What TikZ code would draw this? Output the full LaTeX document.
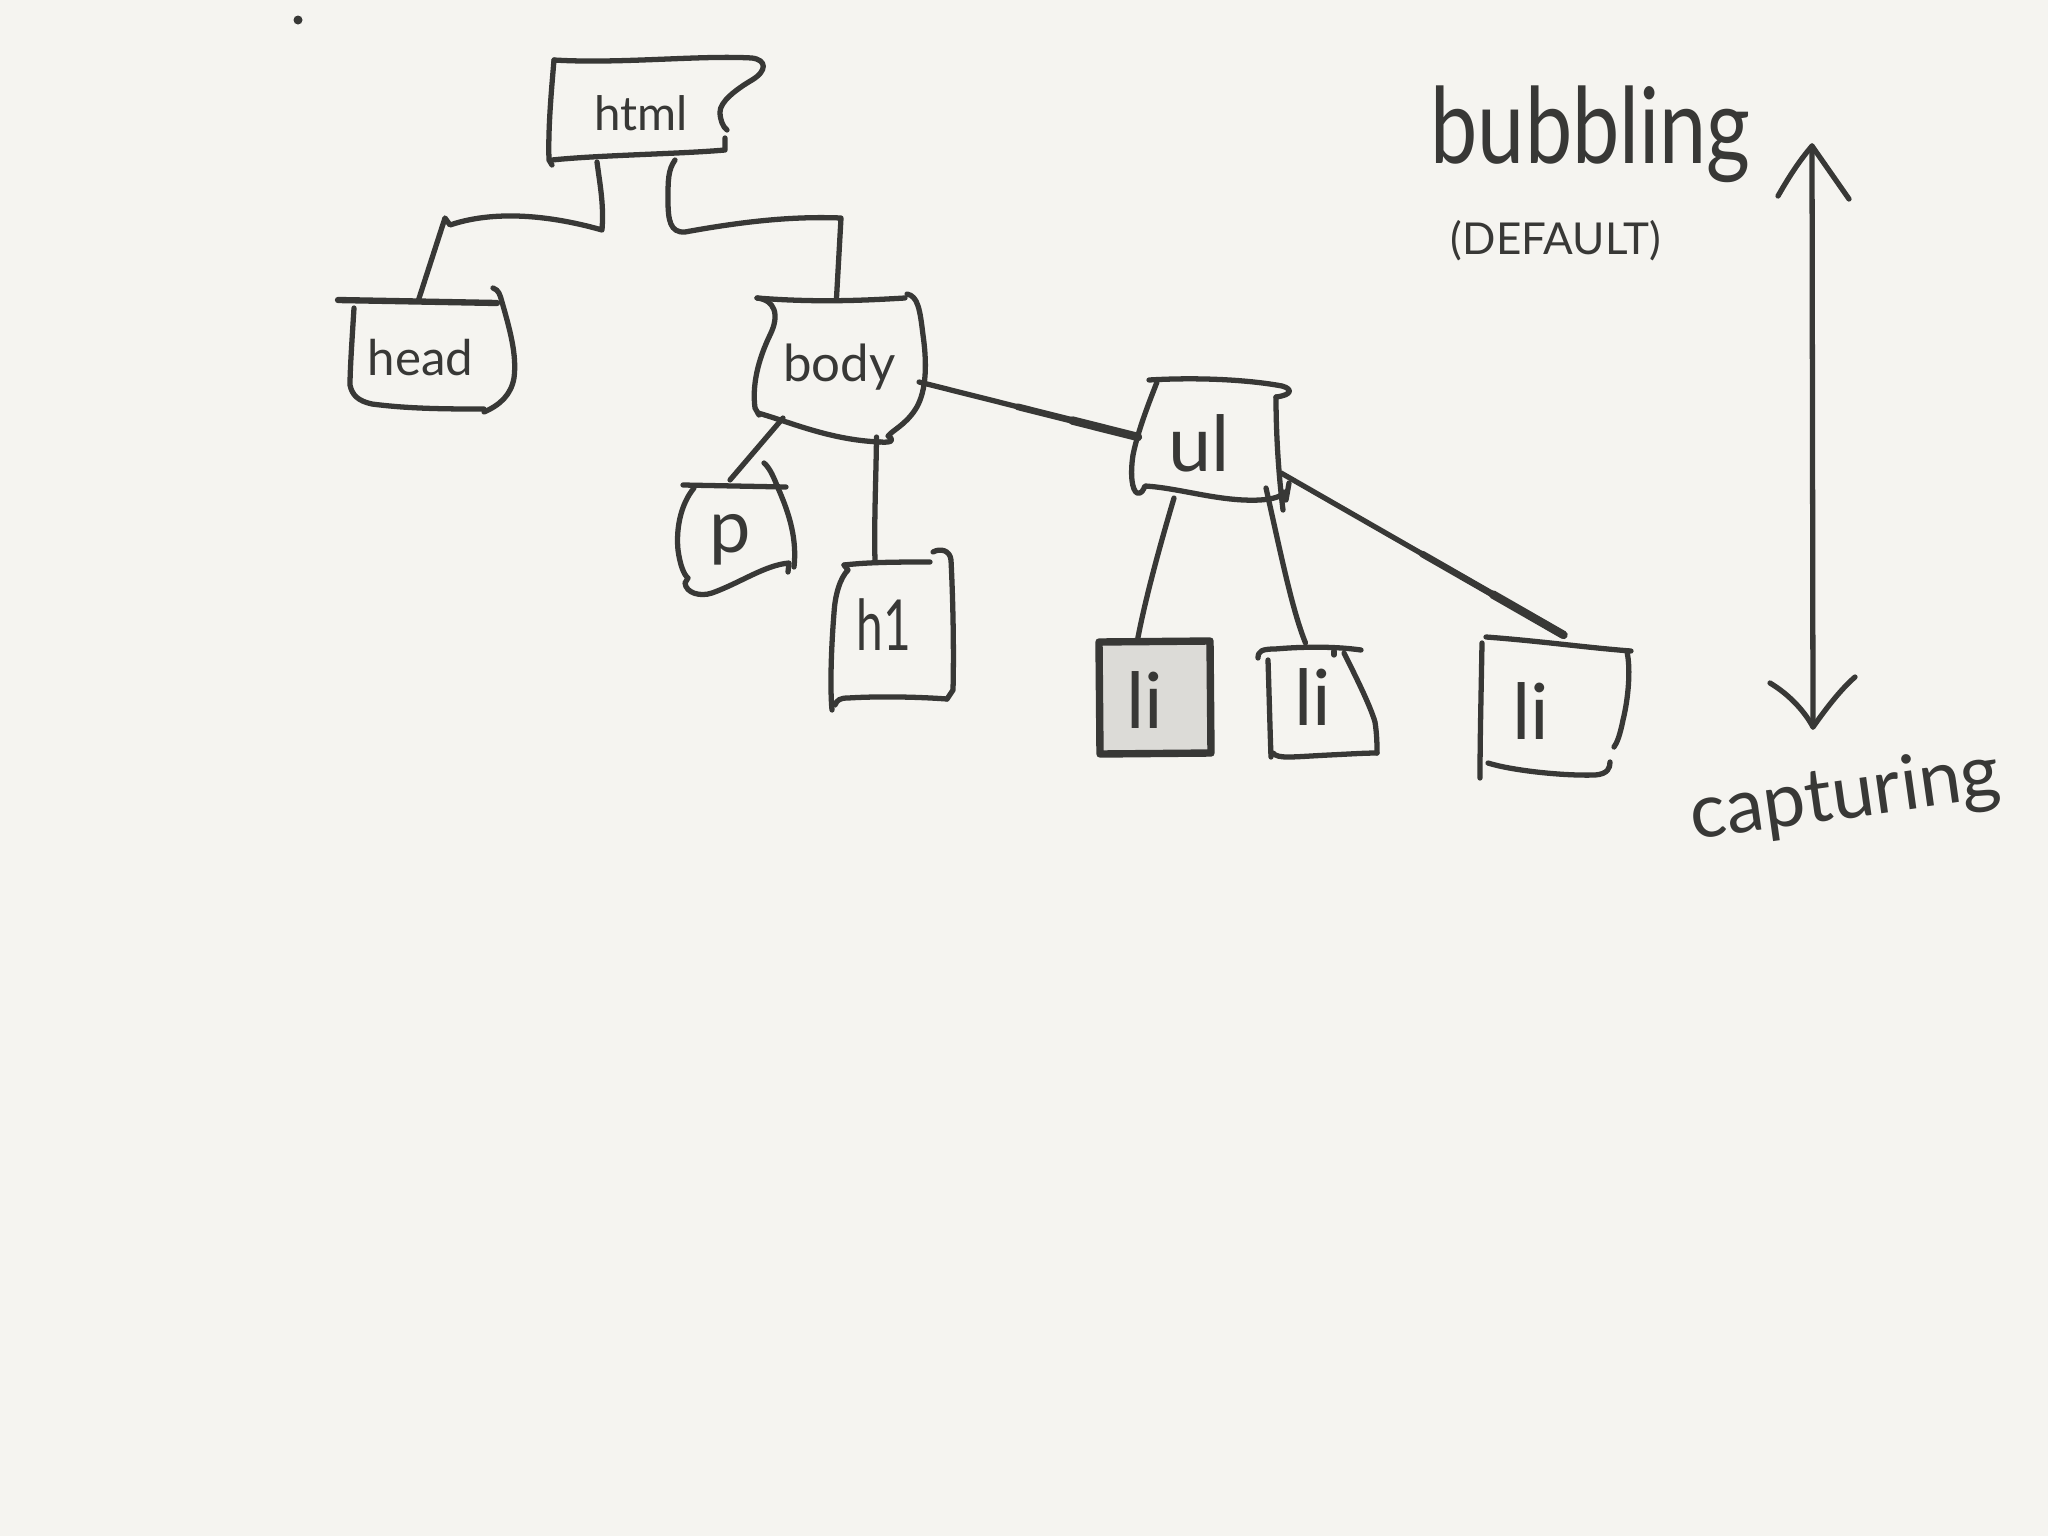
\documentclass[tikz,border=0pt]{standalone}
\usepackage{fontspec}
\setmainfont{Lato}
\usetikzlibrary{calc}
\definecolor{bgc}{RGB}{245,244,240}
\definecolor{ink}{RGB}{56,56,54}
\definecolor{lifill}{RGB}{220,219,215}
\tikzset{
  box/.style={draw=none, inner sep=0pt, outer sep=0pt, rectangle},
  txt/.style={anchor=center, text=ink, inner sep=0pt},
  pen/.style={draw=ink, line width=1.5pt, line cap=round, line join=round},
  mid/.style={draw=ink, line width=1.9pt, line cap=round},
  heavy/.style={draw=ink, line width=2.4pt, line cap=round},
}
\begin{document}
\begin{tikzpicture}[x=0.01cm, y=-0.01cm]
\useasboundingbox (0,0) rectangle (2048,1536);
\fill[bgc] (0,0) rectangle (2048,1536);

% stray dot
\fill[ink] (298,20) circle[radius=0.045cm];

% ---------- hand-drawn outlines ----------
% html
\draw[pen] (554,60) .. controls (551,95) and (548,130) .. (549,160) -- (552,165);
\draw[pen] (554,60) .. controls (620,64) and (700,55) .. (752,58)
  .. controls (767,60) and (767,71) .. (752,80)
  .. controls (735,90) and (720,102) .. (720,112)
  .. controls (720,120) and (723,127) .. (727,130);
\draw[pen] (725,138) -- (725,150) .. controls (680,154) and (600,155) .. (552,160);
% head
\draw[pen, line width=1.8pt] (338,300) -- (497,303);
\draw[pen] (354,308) .. controls (352,340) and (350,370) .. (350,385)
  .. controls (352,395) and (358,401) .. (372,404)
  .. controls (410,409) and (450,409) .. (484,409);
\draw[pen] (493,288) .. controls (499,290) and (500,295) .. (502,302)
  .. controls (510,330) and (517,355) .. (514,378)
  .. controls (511,395) and (500,405) .. (484,412);
% body
\draw[pen] (757,298) .. controls (775,300) and (780,315) .. (770,335)
  .. controls (758,360) and (752,385) .. (755,408) -- (759,415);
\draw[pen] (757,298) .. controls (820,303) and (870,300) .. (905,298);
\draw[pen] (907,294) .. controls (918,296) and (920,310) .. (923,335)
  .. controls (928,370) and (925,395) .. (915,410)
  .. controls (905,425) and (893,430) .. (888,436)
  .. controls (895,440) and (892,443) .. (880,442);
\draw[pen] (758,413) .. controls (790,422) and (830,440) .. (880,442);
% p
\draw[pen] (683,485) -- (786,487);
\draw[pen] (694,488) .. controls (680,505) and (676,530) .. (678,550)
  .. controls (680,565) and (684,575) .. (688,578) -- (685,583)
  .. controls (686,593) and (700,597) .. (712,593)
  .. controls (740,583) and (765,565) .. (789,563) -- (788,572);
\draw[pen] (764,463) .. controls (770,468) and (774,478) .. (778,488)
  .. controls (790,515) and (797,540) .. (794,567);
% h1
\draw[pen] (844,565) .. controls (870,562) and (900,562) .. (930,562);
\draw[pen] (844,565) -- (848,570) .. controls (840,578) and (835,595) .. (834,613)
  .. controls (831,650) and (830,690) .. (832,710);
\draw[pen] (835,705) .. controls (837,700) and (840,698) .. (848,698)
  .. controls (880,696) and (920,697) .. (947,699);
\draw[pen] (933,552) .. controls (940,548) and (950,550) .. (951,560)
  .. controls (953,600) and (954,650) .. (953,690) -- (947,699);
% ul
\draw[pen] (1149,380) .. controls (1200,377) and (1250,380) .. (1282,386)
  .. controls (1293,389) and (1292,395) .. (1276,397);
\draw[pen] (1157,382) .. controls (1150,400) and (1138,430) .. (1133,455)
  .. controls (1130,475) and (1132,490) .. (1137,493)
  .. controls (1142,494) and (1143,490) .. (1145,486)
  .. controls (1180,488) and (1220,502) .. (1260,500)
  .. controls (1275,499) and (1282,496) .. (1284,492);
\draw[pen] (1276,397) .. controls (1276,430) and (1278,470) .. (1283,510);
\draw[pen] (1289,483) -- (1286,500);
% li (selected, grey)
\filldraw[pen, fill=lifill, line width=2.1pt] (1099,642) -- (1210,641) -- (1211,753) -- (1100,754) -- cycle;
% li 2
\draw[pen] (1258,658) .. controls (1258,651) and (1262,649) .. (1275,649)
  .. controls (1310,646) and (1340,647) .. (1361,650);
\draw[pen] (1268,660) .. controls (1269,690) and (1270,730) .. (1271,757);
\draw[pen] (1273,753) .. controls (1278,759) and (1290,757) .. (1329,755)
  .. controls (1350,754) and (1365,753) .. (1377,753);
\draw[pen] (1344,653) .. controls (1355,675) and (1370,705) .. (1375,722)
  .. controls (1377,735) and (1377,745) .. (1377,753);
\draw[pen] (1334,651) -- (1334,655);
% li 3
\draw[pen] (1486,637) .. controls (1540,641) and (1590,648) .. (1631,651);
\draw[pen] (1482,643) .. controls (1481,700) and (1480,740) .. (1480,778);
\draw[pen] (1627,652) .. controls (1631,670) and (1628,700) .. (1623,720)
  .. controls (1620,735) and (1617,743) .. (1614,747);
\draw[pen] (1488,763) .. controls (1510,770) and (1560,776) .. (1595,775)
  .. controls (1608,774) and (1610,768) .. (1610,762);

% ---------- nodes (invisible boxes carrying the texts) ----------
\node[box, minimum width=2.10cm, minimum height=1.01cm,
  label={[txt, font=\fontsize{13.5}{16}\selectfont, xshift=-0.13cm, yshift=-0.03cm]center:html}] (html) at (654,110.5) {};
\node[box, minimum width=1.77cm, minimum height=1.12cm,
  label={[txt, font=\fontsize{14}{16}\selectfont, xshift=-0.06cm, yshift=-0.02cm]center:head}] (head) at (426.5,356) {};
\node[box, minimum width=1.73cm, minimum height=1.44cm,
  label={[txt, font=\fontsize{14.5}{17}\selectfont, xshift=0cm, yshift=0.03cm]center:body}] (body) at (839.5,370) {};
\node[box, minimum width=1.18cm, minimum height=1.10cm,
  label={[txt, font=\fontsize{21}{24}\selectfont, xshift=-0.06cm, yshift=0cm]center:p}] (p) at (736,540) {};
\node[box, minimum width=1.22cm, minimum height=1.46cm,
  label={[txt, font=\fontsize{20}{24}\selectfont, xshift=-0.08cm, yshift=0.1cm]center:\scalebox{0.68}[1]{h1}}] (h1) at (892,635) {};
\node[box, minimum width=1.58cm, minimum height=1.32cm,
  label={[txt, font=\fontsize{22}{26}\selectfont, xshift=-0.12cm, yshift=0.01cm]center:ul}] (ul) at (1211,444) {};
\node[box, minimum width=1.11cm, minimum height=1.11cm,
  label={[txt, font=\fontsize{22}{26}\selectfont, xshift=-0.1cm, yshift=-0.02cm]center:li}] (li1) at (1154.5,697.5) {};
\node[box, minimum width=1.19cm, minimum height=1.11cm,
  label={[txt, font=\fontsize{22}{26}\selectfont, xshift=-0.05cm, yshift=0.05cm]center:li}] (li2) at (1317.5,702.5) {};
\node[box, minimum width=1.51cm, minimum height=1.41cm,
  label={[txt, font=\fontsize{22}{26}\selectfont, xshift=-0.25cm, yshift=-0.03cm]center:li}] (li3) at (1555.5,707.5) {};

% ---------- connectors ----------
\draw[pen] ([shift={(-57,1)}]html.south) .. controls (600,185) and (604,205) .. (602,230)
  .. controls (560,218) and (500,208) .. (450,225) -- (445,218) -- ([shift={(-8,0)}]head.north);
\draw[pen] ([shift={(21,-1)}]html.south) .. controls (668,170) and (668,180) .. (668,200)
  .. controls (668,220) and (670,233) .. (685,232)
  .. controls (740,222) and (790,216) .. (841,218) -- ([shift={(-3,0)}]body.north);
\draw[pen] ([shift={(30,-24)}]body.south west) -- ([shift={(-6,-5)}]p.north);
\draw[pen] ([shift={(37,-5)}]body.south) .. controls (876,480) and (874,520) .. ([shift={(-17,0)}]h1.north);
\coordinate (bu1) at ([shift={(-7,12)}]body.east);
\coordinate (bu2) at ([shift={(6,-7)}]ul.west);
\draw[pen] (bu1) -- (bu2);
\draw[mid] ($(bu1)!0.45!(bu2)$) -- (bu2);
\draw[heavy] ($(bu1)!0.7!(bu2)$) -- (bu2);
\draw[pen] ([shift={(-37,-12)}]ul.south) .. controls (1160,545) and (1145,600) .. ([shift={(-17,-2)}]li1.north);
\draw[pen] ([shift={(55,-22)}]ul.south) .. controls (1280,550) and (1292,610) .. ([shift={(-12,-4)}]li2.north);
\coordinate (ul3a) at ([shift={(-9,29)}]ul.east);
\coordinate (ul3b) at ([shift={(8,-2)}]li3.north);
\draw[pen] (ul3a) -- (ul3b);
\draw[mid] ($(ul3a)!0.5!(ul3b)$) -- (ul3b);
\draw[heavy] ($(ul3a)!0.75!(ul3b)$) -- (ul3b);

% ---------- direction arrow and labels ----------
\node[anchor=base west, text=ink, inner sep=0pt, font=\fontsize{24}{28}\selectfont] (bub) at (1430,163) {\scalebox{1}[1.25]{bubbling}};
\node[txt, font=\fontsize{12.5}{15}\selectfont] (dflt) at (1556,241) {(DEFAULT)};
\node[anchor=base west, text=ink, inner sep=0pt, rotate=8, font=\fontsize{21.5}{26}\selectfont] (cap) at (1693,840) {capturing};
\coordinate (up) at (1812,146);
\coordinate (down) at (1813,727);
\draw[pen] (up) -- (down);
\draw[pen] (1778,196) .. controls (1790,175) and (1800,160) .. (up) -- (1849,199);
\draw[pen] (1770,683) .. controls (1790,695) and (1805,712) .. (down)
  .. controls (1825,710) and (1840,690) .. (1855,677);
\end{tikzpicture}
\end{document}
